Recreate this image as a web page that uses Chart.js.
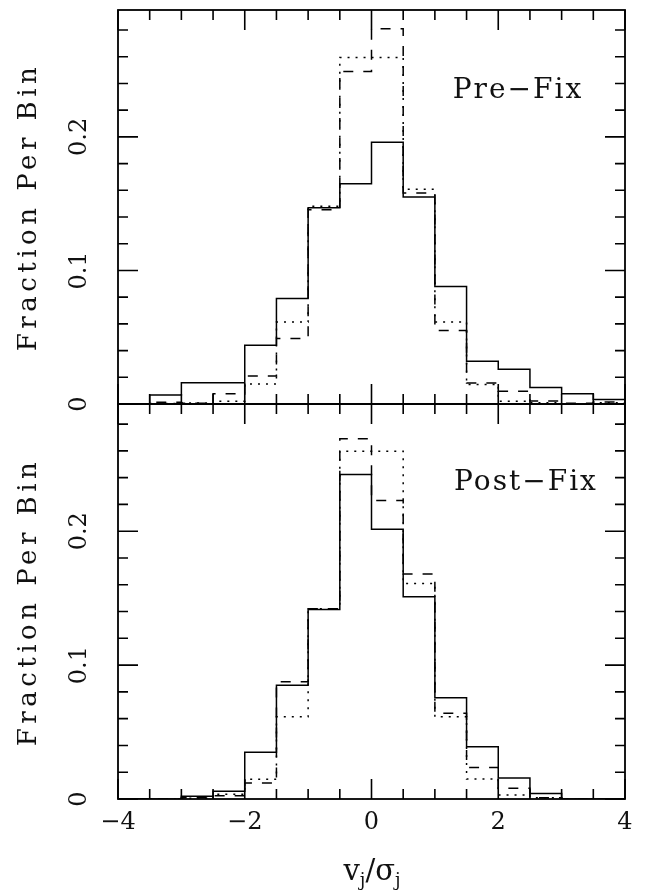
<!DOCTYPE html>
<html lang="en">
<head>
<meta charset="UTF-8">
<title>v/sigma histograms</title>
<style>
    body { margin: 0; background: #fff; }
    #wrap { position: relative; width: 657px; height: 896px; overflow: hidden; }
    #wrap canvas { position: absolute; left: 0; top: 0; }
    .lbl {
        position: absolute;
        font-family: 'DejaVu Serif', serif;
        color: #111;
        white-space: nowrap;
        transform: translate(-50%, -50%);
        line-height: 1;
    }
    .ytitle { font-size: 26px; letter-spacing: 4.5px; left: 27px; transform: translate(-50%, -50%) rotate(-90deg); }
    .panel { font-size: 28px; letter-spacing: 2px; }
    .xtitle { font-size: 29px; left: 372px; top: 872px; }
    .xtitle sub { font-size: 18px; vertical-align: -6px; }
</style>
</head>
<body>
<div id="wrap">
    <canvas id="topChart" width="657" height="896"></canvas>
    <canvas id="botChart" width="657" height="896"></canvas>
    <div class="lbl ytitle" style="top:207px">Fraction Per Bin</div>
    <div class="lbl ytitle" style="top:602px">Fraction Per Bin</div>
    <div class="lbl panel" style="left:518px; top:89px">Pre&minus;Fix</div>
    <div class="lbl panel" style="left:526px; top:481px">Post&minus;Fix</div>
    <div class="lbl xtitle">v<sub>j</sub>/σ<sub>j</sub></div>
</div>

<script src="https://cdn.jsdelivr.net/npm/chart.js"></script>
<script>
    // bin edges in v_j / sigma_j (16 bins, width 0.5)
    const binEdges = [-4, -3.5, -3, -2.5, -2, -1.5, -1, -0.5, 0, 0.5, 1, 1.5, 2, 2.5, 3, 3.5, 4];

    // Pre-Fix panel
    const preSolid  = [0, 0.0067, 0.016, 0.016, 0.044, 0.079, 0.147, 0.165, 0.196, 0.155, 0.088, 0.032, 0.026, 0.0124, 0.0076, 0.0034];
    const preDashed = [0, 0.0013, 0.0005, 0.0077, 0.021, 0.049, 0.1455, 0.249, 0.281, 0.158, 0.055, 0.0158, 0.0096, 0.0022, 0.0005, 0.0015];
    const preDotted = [0, 0.0004, 0.0007, 0.002, 0.015, 0.0614, 0.148, 0.2594, 0.2594, 0.1607, 0.0614, 0.0146, 0.002, 0.001, 0, 0.001];

    // Post-Fix panel
    const postSolid  = [0, 0, 0.002, 0.0057, 0.035, 0.085, 0.1415, 0.2423, 0.2015, 0.151, 0.0756, 0.039, 0.0157, 0.0042, 0, 0];
    const postDashed = [0, 0, 0.001, 0.0025, 0.012, 0.0876, 0.142, 0.269, 0.223, 0.168, 0.064, 0.0235, 0.008, 0.001, 0, 0];
    const postDotted = [0, 0, 0.0005, 0.0035, 0.0148, 0.0614, 0.142, 0.2597, 0.2597, 0.161, 0.0614, 0.0149, 0.003, 0.001, 0, 0];

    // axis ticks
    const xTickLabels = [-4, -2, 0, 2, 4];
    const yTickLabels = [0, 0.1, 0.2];
    const xMinorStep = 0.5;
    const yMinorStep = 0.02;
    const yMax = 0.295;

    const FONT = "'DejaVu Serif', serif";

    function histPoints(vals) {
        // left edge of each bin, plus the closing right edge
        const pts = vals.map((v, i) => ({ x: binEdges[i], y: v }));
        pts.push({ x: binEdges[binEdges.length - 1], y: vals[vals.length - 1] });
        return pts;
    }

    function nearMultiple(v, step) {
        return Math.abs(v / step - Math.round(v / step)) < 1e-6;
    }

    // box + inward ticks on all four sides
    const framePlugin = {
        id: 'frame',
        afterDatasetsDraw(chart) {
            const { ctx, chartArea: a, scales: { x, y } } = chart;
            ctx.save();
            ctx.strokeStyle = '#000';
            ctx.lineWidth = 1.6;
            ctx.beginPath();
            for (let v = x.min; v <= x.max + 1e-9; v += xMinorStep) {
                const px = x.getPixelForValue(v);
                const len = nearMultiple(v, 2) ? 20 : 10;
                ctx.moveTo(px, a.bottom); ctx.lineTo(px, a.bottom - len);
                ctx.moveTo(px, a.top); ctx.lineTo(px, a.top + len);
            }
            for (let v = 0; v <= y.max + 1e-9; v += yMinorStep) {
                const py = y.getPixelForValue(v);
                const len = nearMultiple(v, 0.1) ? 20 : 10;
                ctx.moveTo(a.left, py); ctx.lineTo(a.left + len, py);
                ctx.moveTo(a.right, py); ctx.lineTo(a.right - len, py);
            }
            ctx.stroke();
            ctx.lineWidth = 1.8;
            ctx.strokeRect(a.left, a.top, a.right - a.left, a.bottom - a.top);
            ctx.restore();
        }
    };

    function makeChart(id, solid, dashed, dotted, isBottom) {
        const ctx = document.getElementById(id).getContext('2d');
        const line = (data, dash) => ({
            data: histPoints(data),
            borderColor: '#000',
            borderWidth: 1.5,
            borderDash: dash,
            stepped: 'before',
            pointRadius: 0,
            fill: false
        });
        return new Chart(ctx, {
            type: 'line',
            data: {
                datasets: [
                    line(solid, []),
                    line(dashed, [10, 10]),
                    line(dotted, [2, 6])
                ]
            },
            options: {
                responsive: false,
                animation: false,
                events: [],
                layout: {
                    padding: isBottom
                        ? { left: 0, right: 32, top: 404, bottom: 0 }
                        : { left: 0, right: 32, top: 10, bottom: 492 }
                },
                plugins: { legend: { display: false }, tooltip: { enabled: false } },
                scales: {
                    x: {
                        type: 'linear',
                        min: -4,
                        max: 4,
                        display: isBottom,
                        grid: { display: false, drawTicks: false },
                        border: { display: false },
                        afterBuildTicks: s => { s.ticks = xTickLabels.map(v => ({ value: v })); },
                        afterFit: s => {
                            s.height = isBottom ? 97 : 0;
                            s.paddingLeft = 0; s.paddingRight = 0;
                        },
                        ticks: {
                            padding: 9,
                            color: '#111',
                            font: { family: FONT, size: 24 },
                            maxRotation: 0,
                            callback: v => (v < 0 ? '\u2212' + Math.abs(v) : String(v))
                        }
                    },
                    y: {
                        type: 'linear',
                        min: 0,
                        max: yMax,
                        grid: { display: false, drawTicks: false },
                        border: { display: false },
                        afterBuildTicks: s => { s.ticks = yTickLabels.map(v => ({ value: v })); },
                        afterFit: s => {
                            s.width = 118;
                            s.paddingTop = 0; s.paddingBottom = 0;
                        },
                        ticks: {
                            padding: 19,
                            color: '#111',
                            crossAlign: 'center',
                            minRotation: 90,
                            maxRotation: 90,
                            font: { family: FONT, size: 24 },
                            callback: v => String(v)
                        }
                    }
                }
            },
            plugins: [framePlugin]
        });
    }

    makeChart('topChart', preSolid, preDashed, preDotted, false);
    makeChart('botChart', postSolid, postDashed, postDotted, true);
</script>
</body>
</html>
